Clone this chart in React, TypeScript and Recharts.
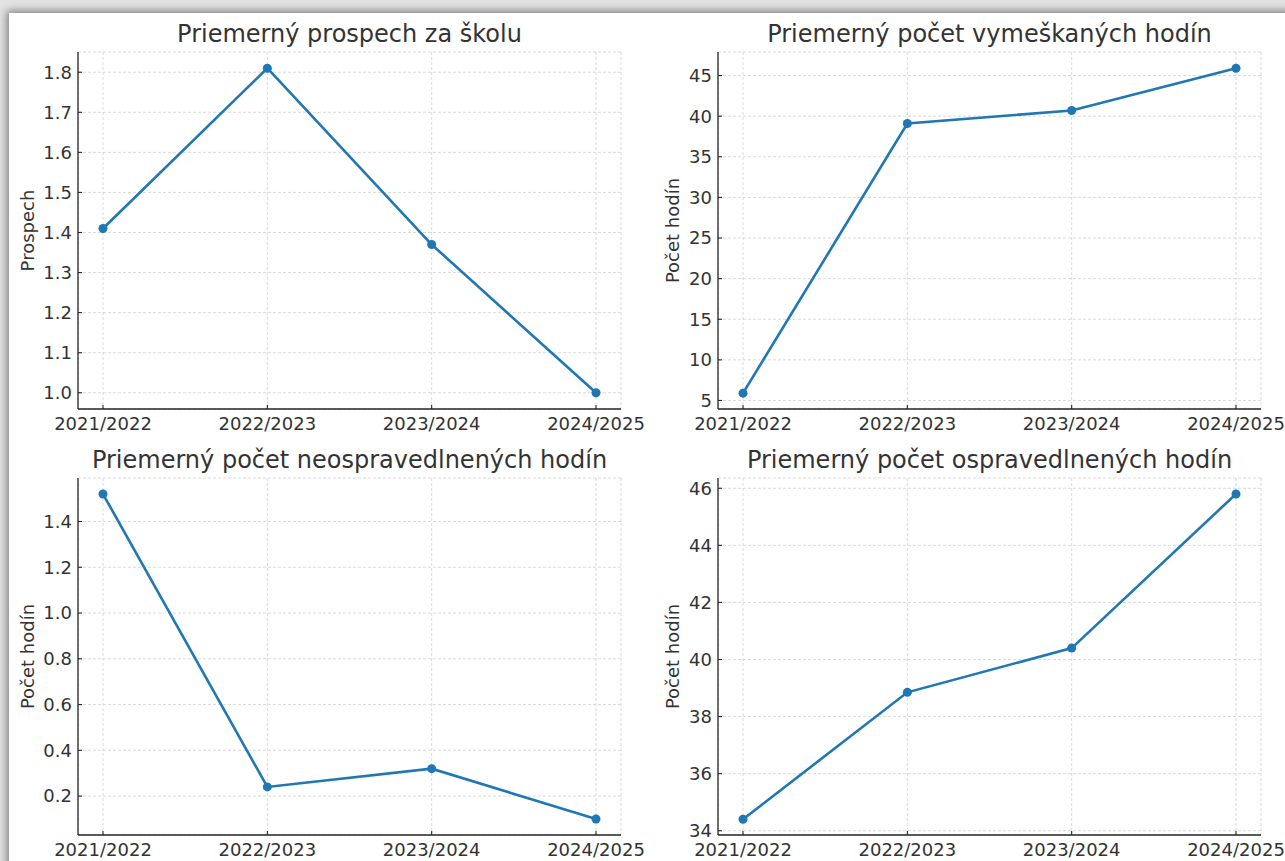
import { LineChart, Line, XAxis, YAxis, CartesianGrid } from "recharts";

const years = ["2021/2022", "2022/2023", "2023/2024", "2024/2025"];
const prospech = [1.41, 1.81, 1.37, 1.0];
const vymeskane = [5.9, 39.1, 40.7, 45.9];
const neospravedlnene = [1.52, 0.24, 0.32, 0.1];
const ospravedlnene = [34.4, 38.85, 40.4, 45.8];

const prospechTicks = [1.0, 1.1, 1.2, 1.3, 1.4, 1.5, 1.6, 1.7, 1.8];
const vymeskaneTicks = [5, 10, 15, 20, 25, 30, 35, 40, 45];
const neospTicks = [0.2, 0.4, 0.6, 0.8, 1.0, 1.2, 1.4];
const ospTicks = [34, 36, 38, 40, 42, 44, 46];

const FONT = "'DejaVu Sans', sans-serif";
const TEXT = "#333333";
const SPINE = "#262626";
const BLUE = "#1f77b4";

const TICK_SIZE = 4;
const X_MARGIN = 4;
const Y_MARGIN = 2;

const XTick = (props: any) => {
  const { x, y, payload } = props;
  const axisY = y - TICK_SIZE - X_MARGIN;
  return (
    <g>
      <line x1={x} x2={x} y1={axisY} y2={axisY - 4} stroke={SPINE} strokeWidth={1.1} />
      <text x={x} y={y} dy="0.71em" textAnchor="middle" fill={TEXT} fontSize={18} fontFamily={FONT}>
        {payload.value}
      </text>
    </g>
  );
};

const makeYTick = (digits: number) => (props: any) => {
  const { x, y, payload } = props;
  const axisX = x + TICK_SIZE + Y_MARGIN;
  return (
    <g>
      <line x1={axisX} x2={axisX + 4} y1={y} y2={y} stroke={SPINE} strokeWidth={1.1} />
      <text x={x} y={y} dy="0.355em" textAnchor="end" fill={TEXT} fontSize={18} fontFamily={FONT}>
        {Number(payload.value).toFixed(digits)}
      </text>
    </g>
  );
};

type PanelProps = {
  left: number;
  top: number;
  values: number[];
  domain: [number, number];
  ticks: number[];
  digits: number;
  label: string;
  labelX: number;
};

const Panel = ({ left, top, values, domain, ticks, digits, label, labelX }: PanelProps) => {
  const data = years.map((year, i) => ({ year, value: values[i] }));
  const YTick = makeYTick(digits);
  return (
    <div style={{ position: "absolute", left, top }}>
      <LineChart width={640} height={450} data={data} margin={{ top: 52, right: 19, left: 18, bottom: 11 }}>
        <CartesianGrid stroke="#d0d0d0" strokeDasharray="3 2" strokeWidth={0.8} />
        <XAxis
          dataKey="year"
          height={30}
          interval={0}
          padding={{ left: 25, right: 25 }}
          tickLine={false}
          tickSize={TICK_SIZE}
          tickMargin={X_MARGIN}
          axisLine={{ stroke: SPINE, strokeWidth: 1.3 }}
          tick={XTick}
        />
        <YAxis
          type="number"
          width={60}
          domain={domain}
          ticks={ticks}
          allowDataOverflow
          tickLine={false}
          tickSize={TICK_SIZE}
          tickMargin={Y_MARGIN}
          axisLine={{ stroke: SPINE, strokeWidth: 1.3 }}
          tick={YTick}
          label={{
            value: label,
            content: (p: any) => {
              const vb = p.viewBox || { y: 52, height: 357 };
              const cy = vb.y + vb.height / 2;
              return (
                <text
                  transform={`translate(${labelX}, ${cy}) rotate(-90)`}
                  textAnchor="middle"
                  fill={TEXT}
                  fontSize={18}
                  fontFamily={FONT}
                >
                  {label}
                </text>
              );
            },
          }}
        />
        <Line
          type="linear"
          dataKey="value"
          stroke={BLUE}
          strokeWidth={2.6}
          dot={{ r: 4.5, fill: BLUE, stroke: "none" }}
          activeDot={false}
          isAnimationActive={false}
        />
      </LineChart>
    </div>
  );
};

const titles = [
  { text: "Priemerný prospech za školu", x: 349.5, y: 42 },
  { text: "Priemerný počet vymeškaných hodín", x: 989.5, y: 42 },
  { text: "Priemerný počet neospravedlnených hodín", x: 349.5, y: 468 },
  { text: "Priemerný počet ospravedlnených hodín", x: 989.5, y: 468 },
];

export default function App() {
  return (
    <div
      style={{
        position: "absolute",
        left: 0,
        top: 0,
        width: 1285,
        height: 861,
        overflow: "hidden",
        background: "#e2e2e2",
        fontFamily: FONT,
      }}
    >
      <style>{`.recharts-wrapper, .recharts-surface { overflow: visible !important; }`}</style>
      <div
        style={{
          position: "absolute",
          left: 9,
          top: 13,
          width: 1300,
          height: 900,
          background: "#ffffff",
          boxShadow: "-2px -2px 8px rgba(0,0,0,0.45)",
        }}
      />
      <Panel left={0} top={0} values={prospech} domain={[0.9595, 1.8505]} ticks={prospechTicks} digits={1} label="Prospech" labelX={33.5} />
      <Panel left={640} top={0} values={vymeskane} domain={[3.95, 47.9]} ticks={vymeskaneTicks} digits={0} label="Počet hodín" labelX={38.5} />
      <Panel left={0} top={426} values={neospravedlnene} domain={[0.03, 1.59]} ticks={neospTicks} digits={1} label="Počet hodín" labelX={33.5} />
      <Panel left={640} top={426} values={ospravedlnene} domain={[33.85, 46.36]} ticks={ospTicks} digits={0} label="Počet hodín" labelX={38.5} />
      <svg width={1285} height={861} style={{ position: "absolute", left: 0, top: 0, pointerEvents: "none" }}>
        {titles.map((t) => (
          <text key={t.text} x={t.x} y={t.y} textAnchor="middle" fill={TEXT} fontSize={24} fontFamily={FONT}>
            {t.text}
          </text>
        ))}
      </svg>
    </div>
  );
}
